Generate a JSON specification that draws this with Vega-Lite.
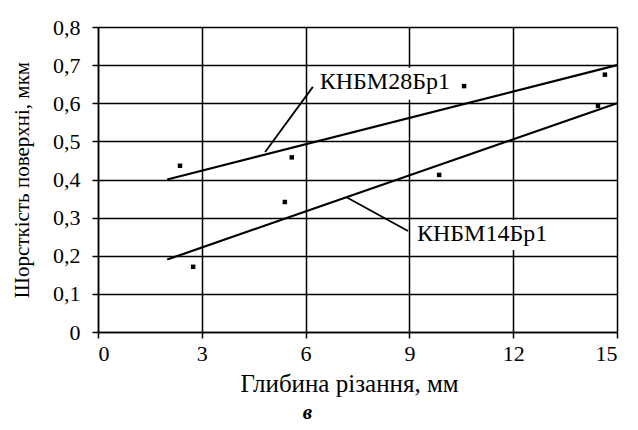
{
  "$schema": "https://vega.github.io/schema/vega-lite/v6.json",
  "width": 519,
  "height": 305,
  "autosize": {"type": "none"},
  "padding": {"left": 98, "top": 27, "right": 21, "bottom": 98},
  "background": "white",
  "title": {
    "text": "в",
    "orient": "bottom",
    "anchor": "middle",
    "font": "Liberation Serif",
    "fontSize": 21,
    "fontStyle": "italic",
    "fontWeight": "bold",
    "color": "black",
    "offset": 6,
    "dx": -50
  },
  "datasets": {
    "fits": [
      {"series": "КНБМ28Бр1", "depth": 2, "roughness": 0.40},
      {"series": "КНБМ28Бр1", "depth": 15, "roughness": 0.70},
      {"series": "КНБМ14Бр1", "depth": 2, "roughness": 0.19},
      {"series": "КНБМ14Бр1", "depth": 15, "roughness": 0.60}
    ],
    "points": [
      {"series": "КНБМ28Бр1", "depth": 2.37, "roughness": 0.436},
      {"series": "КНБМ28Бр1", "depth": 5.6, "roughness": 0.458},
      {"series": "КНБМ28Бр1", "depth": 10.58, "roughness": 0.645},
      {"series": "КНБМ28Бр1", "depth": 14.65, "roughness": 0.675},
      {"series": "КНБМ14Бр1", "depth": 2.75, "roughness": 0.171},
      {"series": "КНБМ14Бр1", "depth": 5.4, "roughness": 0.341},
      {"series": "КНБМ14Бр1", "depth": 9.86, "roughness": 0.412},
      {"series": "КНБМ14Бр1", "depth": 14.45, "roughness": 0.593}
    ],
    "leaders": [
      {"series": "КНБМ28Бр1", "depth": 4.83, "roughness": 0.472},
      {"series": "КНБМ28Бр1", "depth": 6.21, "roughness": 0.643},
      {"series": "КНБМ14Бр1", "depth": 7.17, "roughness": 0.354},
      {"series": "КНБМ14Бр1", "depth": 8.96, "roughness": 0.265}
    ],
    "boxes": [
      {"series": "КНБМ28Бр1", "depth": 6.36, "depth_end": 10.35, "roughness": 0.609, "roughness_end": 0.693},
      {"series": "КНБМ14Бр1", "depth": 9.08, "depth_end": 13.12, "roughness": 0.215, "roughness_end": 0.294}
    ],
    "labels": [
      {"series": "КНБМ28Бр1", "depth": 8.29, "roughness": 0.655},
      {"series": "КНБМ14Бр1", "depth": 11.1, "roughness": 0.258}
    ]
  },
  "config": {
    "view": {"stroke": null},
    "axis": {
      "domainColor": "black",
      "domainWidth": 1.5,
      "tickColor": "black",
      "tickWidth": 1.5,
      "tickSize": 6,
      "grid": true,
      "gridColor": "black",
      "gridWidth": 1.5,
      "gridOpacity": 1,
      "labelFont": "Liberation Serif",
      "labelFontSize": 22,
      "labelColor": "black",
      "labelOverlap": false,
      "titleFont": "Liberation Serif",
      "titleFontWeight": "normal",
      "titleColor": "black"
    }
  },
  "encoding": {
    "x": {
      "field": "depth", "type": "quantitative",
      "scale": {"domain": [0, 15], "nice": false, "zero": false},
      "axis": {"values": [0, 3, 6, 9, 12, 15], "title": "Глибина різання, мм", "titleFontSize": 25, "labelPadding": 5, "titlePadding": 7, "titleX": 251}
    },
    "y": {
      "field": "roughness", "type": "quantitative",
      "scale": {"domain": [0, 0.8], "nice": false},
      "axis": {
        "values": [0, 0.1, 0.2, 0.3, 0.4, 0.5, 0.6, 0.7, 0.8],
        "labelExpr": "datum.value == 0 ? '0' : replace(format(datum.value, '.1f'), '.', ',')",
        "title": "Шорсткість поверхні, мкм",
        "titleFontSize": 21,
        "labelPadding": 12,
        "titlePadding": 20
      }
    }
  },
  "layer": [
    {
      "data": {"name": "fits"},
      "mark": {"type": "line", "color": "black", "strokeWidth": 2.2},
      "encoding": {"detail": {"field": "series", "type": "nominal"}}
    },
    {
      "data": {"name": "leaders"},
      "mark": {"type": "line", "color": "black", "strokeWidth": 1.8},
      "encoding": {"detail": {"field": "series", "type": "nominal"}}
    },
    {
      "data": {"name": "points"},
      "mark": {"type": "point", "shape": "square", "filled": true, "color": "black", "size": 20, "opacity": 1},
      "encoding": {}
    },
    {
      "data": {"name": "boxes"},
      "mark": {"type": "rect", "color": "white", "opacity": 1},
      "encoding": {
        "x2": {"field": "depth_end"},
        "y2": {"field": "roughness_end"}
      }
    },
    {
      "data": {"name": "labels"},
      "mark": {"type": "text", "font": "Liberation Serif", "fontSize": 24, "color": "black", "align": "center", "baseline": "middle"},
      "encoding": {
        "text": {"field": "series", "type": "nominal"}
      }
    }
  ]
}
